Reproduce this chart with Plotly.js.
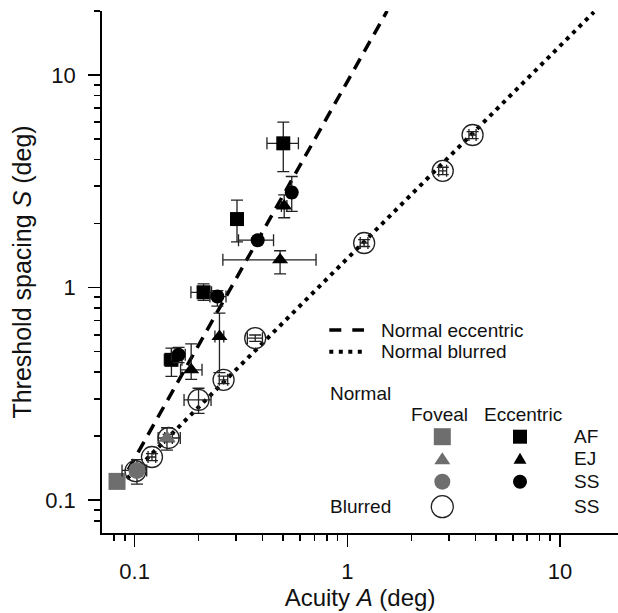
<!DOCTYPE html>
<html>
<head>
<meta charset="utf-8">
<script src="https://cdn.plot.ly/plotly-3.0.1.min.js"></script>
<style>html,body{margin:0;padding:0;background:#fff;}#chart{width:618px;height:613px;}</style>
</head>
<body>
<div id="chart"></div>
<script>
// ---- Data ----
// Normal eccentric, AF (black squares)
const afEccX = [0.50, 0.303, 0.211, 0.149];
const afEccY = [4.77, 2.10, 0.95, 0.457];
const afEccXPlus = [0.089, 0.012, 0.019, 0.018];
const afEccXMinus = [0.081, 0.012, 0.027, 0.011];
const afEccYPlus = [1.23, 0.48, 0.09, 0.062];
const afEccYMinus = [1.26, 0.46, 0.08, 0.075];

// Normal eccentric, EJ (black triangles)
const ejEccX = [0.505, 0.483, 0.2506, 0.1845];
const ejEccY = [2.42, 1.35, 0.588, 0.41];
const ejEccXPlus = [0.015, 0.23, 0.012, 0.023];
const ejEccXMinus = [0.015, 0.223, 0.012, 0.02];
const ejEccYPlus = [0.31, 0.14, 0.17, 0.133];
const ejEccYMinus = [0.29, 0.19, 0.19, 0.04];

// Normal eccentric, SS (black circles)
const ssEccX = [0.548, 0.379, 0.245, 0.161];
const ssEccY = [2.80, 1.67, 0.907, 0.483];
const ssEccXPlus = [0.02, 0.071, 0.024, 0.012];
const ssEccXMinus = [0.02, 0.071, 0.019, 0.012];
const ssEccYPlus = [0.53, 0.04, 0.06, 0.04];
const ssEccYMinus = [0.52, 0.04, 0.09, 0.04];

// Normal foveal (grey): AF square, EJ triangle, SS circle
const afFovX = [0.0827];
const afFovY = [0.1225];
const ejFovX = [0.142];
const ejFovY = [0.196];
const ejFovXPlus = [0.022];
const ejFovXMinus = [0.013];
const ejFovYPlus = [0.023];
const ejFovYMinus = [0.024];
const ssFovX = [0.1026];
const ssFovY = [0.138];
const ssFovXPlus = [0.0114];
const ssFovXMinus = [0.0153];
const ssFovYPlus = [0.017];
const ssFovYMinus = [0.019];

// Blurred foveal, SS (open circles)
const ssBlurX = [0.101, 0.1207, 0.1445, 0.1998, 0.262, 0.369, 1.20, 2.81, 3.88];
const ssBlurY = [0.137, 0.1595, 0.196, 0.296, 0.368, 0.578, 1.62, 3.54, 5.22];
const ssBlurXErr = [0.004, 0.005, 0.006, 0.029, 0.012, 0.03, 0.05, 0.12, 0.15];
const ssBlurYErr = [0.005, 0.006, 0.008, 0.04, 0.015, 0.02, 0.06, 0.14, 0.2];

// Reference lines (end points)
const eccLineX = [0.0934, 1.539];
const eccLineY = [0.139, 20.0];
const blurLineX = [0.092, 14.44];
const blurLineY = [0.126, 19.78];

// Tick values and labels
const xTickVals = [0.1, 1, 10];
const xTickText = ['0.1', '1', '10'];
const xMinorVals = [0.08, 0.09, 0.2, 0.3, 0.4, 0.5, 0.6, 0.7, 0.8, 0.9, 2, 3, 4, 5, 6, 7, 8, 9];
const yTickVals = [0.1, 1, 10];
const yTickText = ['0.1', '1', '10'];
const yMinorVals = [0.08, 0.09, 0.2, 0.3, 0.4, 0.5, 0.6, 0.7, 0.8, 0.9, 2, 3, 4, 5, 6, 7, 8, 9, 20];

// Legend texts
const lineLabels = ['Normal eccentric', 'Normal blurred'];
const groupLabels = ['Normal', 'Blurred'];
const columnLabels = ['Foveal', 'Eccentric'];
const observerLabels = ['AF', 'EJ', 'SS', 'SS'];

// ---- Styling ----
const FONT = 'Liberation Sans, Arial, Helvetica, sans-serif';
const GREY = 'rgb(110,110,110)';
const ERR_COLOR = '#222';
const DASH = '12px,8px';
const DOT = '4px,5px';

function errs(plus, minus, vis) {
  return {type: 'data', symmetric: false, array: plus, arrayminus: minus,
          color: ERR_COLOR, thickness: 1.3, width: 6, visible: vis !== false};
}

const traces = [
  {x: eccLineX, y: eccLineY, mode: 'lines', line: {color: '#000', width: 3.5, dash: DASH}, hoverinfo: 'skip'},
  {x: blurLineX, y: blurLineY, mode: 'lines', line: {color: '#000', width: 4, dash: DOT}, hoverinfo: 'skip'},
  // Blurred open circles
  {x: ssBlurX, y: ssBlurY, mode: 'markers',
   marker: {symbol: 'circle-open', size: 21, color: '#222', line: {width: 1.3, color: '#222'}},
   error_x: errs(ssBlurXErr, ssBlurXErr), error_y: errs(ssBlurYErr, ssBlurYErr)},
  // Foveal grey
  {x: afFovX, y: afFovY, mode: 'markers', marker: {symbol: 'square', size: 17, color: GREY}},
  {x: ssFovX, y: ssFovY, mode: 'markers', marker: {symbol: 'circle', size: 17, color: GREY},
   error_x: errs(ssFovXPlus, ssFovXMinus), error_y: errs(ssFovYPlus, ssFovYMinus)},
  {x: ejFovX, y: ejFovY, mode: 'markers', marker: {symbol: 'triangle-up', size: 15, color: GREY},
   error_x: errs(ejFovXPlus, ejFovXMinus), error_y: errs(ejFovYPlus, ejFovYMinus)},
  // Eccentric black
  {x: afEccX, y: afEccY, mode: 'markers', marker: {symbol: 'square', size: 14, color: '#000'},
   error_x: errs(afEccXPlus, afEccXMinus), error_y: errs(afEccYPlus, afEccYMinus)},
  {x: ejEccX, y: ejEccY, mode: 'markers', marker: {symbol: 'triangle-up', size: 14, color: '#000'},
   error_x: errs(ejEccXPlus, ejEccXMinus), error_y: errs(ejEccYPlus, ejEccYMinus)},
  {x: ssEccX, y: ssEccY, mode: 'markers', marker: {symbol: 'circle', size: 14, color: '#000'},
   error_x: errs(ssEccXPlus, ssEccXMinus), error_y: errs(ssEccYPlus, ssEccYMinus)}
];

// plot area in pixels: x 102..618, y 11..533
function px(x) { return (x - 102) / 516; }
function py(y) { return (533 - y) / 522; }

const col1 = px(442.3), col2 = px(520);
const rows = [py(436.7), py(458.3), py(481.7), py(506.7)];

function rectShape(cx, cy, half, color) {
  return {type: 'rect', xref: 'paper', yref: 'paper', xsizemode: 'pixel', ysizemode: 'pixel',
          xanchor: cx, yanchor: cy, x0: -half, x1: half, y0: -half, y1: half,
          fillcolor: color, line: {width: 0}};
}
function circShape(cx, cy, r, color, open) {
  return {type: 'circle', xref: 'paper', yref: 'paper', xsizemode: 'pixel', ysizemode: 'pixel',
          xanchor: cx, yanchor: cy, x0: -r, x1: r, y0: -r, y1: r,
          fillcolor: open ? 'rgba(0,0,0,0)' : color,
          line: open ? {width: 1.3, color: color} : {width: 0}};
}
function triShape(cx, cy, w, h, color) {
  return {type: 'path', xref: 'paper', yref: 'paper', xsizemode: 'pixel', ysizemode: 'pixel',
          xanchor: cx, yanchor: cy,
          path: 'M' + (-w / 2) + ',' + (-h / 2) + ' L' + (w / 2) + ',' + (-h / 2) + ' L0,' + (h / 2) + ' Z',
          fillcolor: color, line: {width: 0}};
}

const shapes = [
  {type: 'line', xref: 'paper', yref: 'paper', x0: px(329.3), x1: px(364), y0: py(330), y1: py(330),
   line: {color: '#000', width: 3.5, dash: '12px,11px'}},
  {type: 'line', xref: 'paper', yref: 'paper', x0: px(329.3), x1: px(364), y0: py(351.7), y1: py(351.7),
   line: {color: '#000', width: 4, dash: '4px,5.5px'}},
  rectShape(col1, rows[0], 8.5, GREY),
  rectShape(col2, rows[0], 7, '#000'),
  triShape(col1, rows[1], 16, 12, GREY),
  triShape(col2, rows[1], 13, 11, '#000'),
  circShape(col1, rows[2], 8, GREY, false),
  circShape(col2, rows[2], 7, '#000', false),
  circShape(col1, rows[3], 11, '#222', true)
];

const txtFont = {family: FONT, size: 19, color: '#111'};
function ann(text, x, y, xanchor) {
  return {text: text, x: x, y: y, xref: 'paper', yref: 'paper', xanchor: xanchor || 'left',
          yanchor: 'middle', showarrow: false, font: txtFont};
}
const annotations = [
  ann(lineLabels[0], px(379.3), py(330)),
  ann(lineLabels[1], px(379.3), py(351.7)),
  ann(groupLabels[0], px(327.7), py(393.3)),
  ann(columnLabels[0], px(439.2), py(414.3), 'center'),
  ann(columnLabels[1], px(522.7), py(414.3), 'center'),
  ann(observerLabels[0], px(571.7), rows[0]),
  ann(observerLabels[1], px(571.7), rows[1]),
  ann(observerLabels[2], px(571.7), rows[2]),
  ann(observerLabels[3], px(571.7), rows[3]),
  ann(groupLabels[1], px(327.7), rows[3])
];

const axisCommon = {
  type: 'log', showgrid: false, zeroline: false, showline: true, linecolor: '#000', linewidth: 1.8,
  ticks: 'outside', ticklen: 12, tickwidth: 1.6, tickcolor: '#000', tickmode: 'array',
  tickfont: {family: FONT, size: 22, color: '#111'},
  minor: {ticks: 'outside', ticklen: 6, tickwidth: 1.6, tickcolor: '#000', showgrid: false, tickmode: 'array'}
};

const layout = {
  width: 618, height: 613,
  margin: {l: 102, r: 0, t: 11, b: 80},
  paper_bgcolor: '#fff', plot_bgcolor: '#fff',
  showlegend: false,
  font: {family: FONT, color: '#111'},
  xaxis: Object.assign({}, axisCommon, {
    range: [-1.1532, 1.2725], tickvals: xTickVals, ticktext: xTickText,
    minor: Object.assign({}, axisCommon.minor, {tickvals: xMinorVals}),
    ticklabelstandoff: 6,
    title: {text: 'Acuity <i>A</i> (deg)', font: {family: FONT, size: 24, color: '#111'}, standoff: 0}
  }),
  yaxis: Object.assign({}, axisCommon, {
    range: [-1.1547, 1.301], tickvals: yTickVals, ticktext: yTickText,
    minor: Object.assign({}, axisCommon.minor, {tickvals: yMinorVals}),
    ticklabelstandoff: 8,
    title: {text: 'Threshold spacing <i>S</i> (deg)', font: {family: FONT, size: 25, color: '#111'}, standoff: 6}
  }),
  shapes: shapes,
  annotations: annotations
};

Plotly.newPlot('chart', traces, layout, {displayModeBar: false, staticPlot: true});
</script>
</body>
</html>
